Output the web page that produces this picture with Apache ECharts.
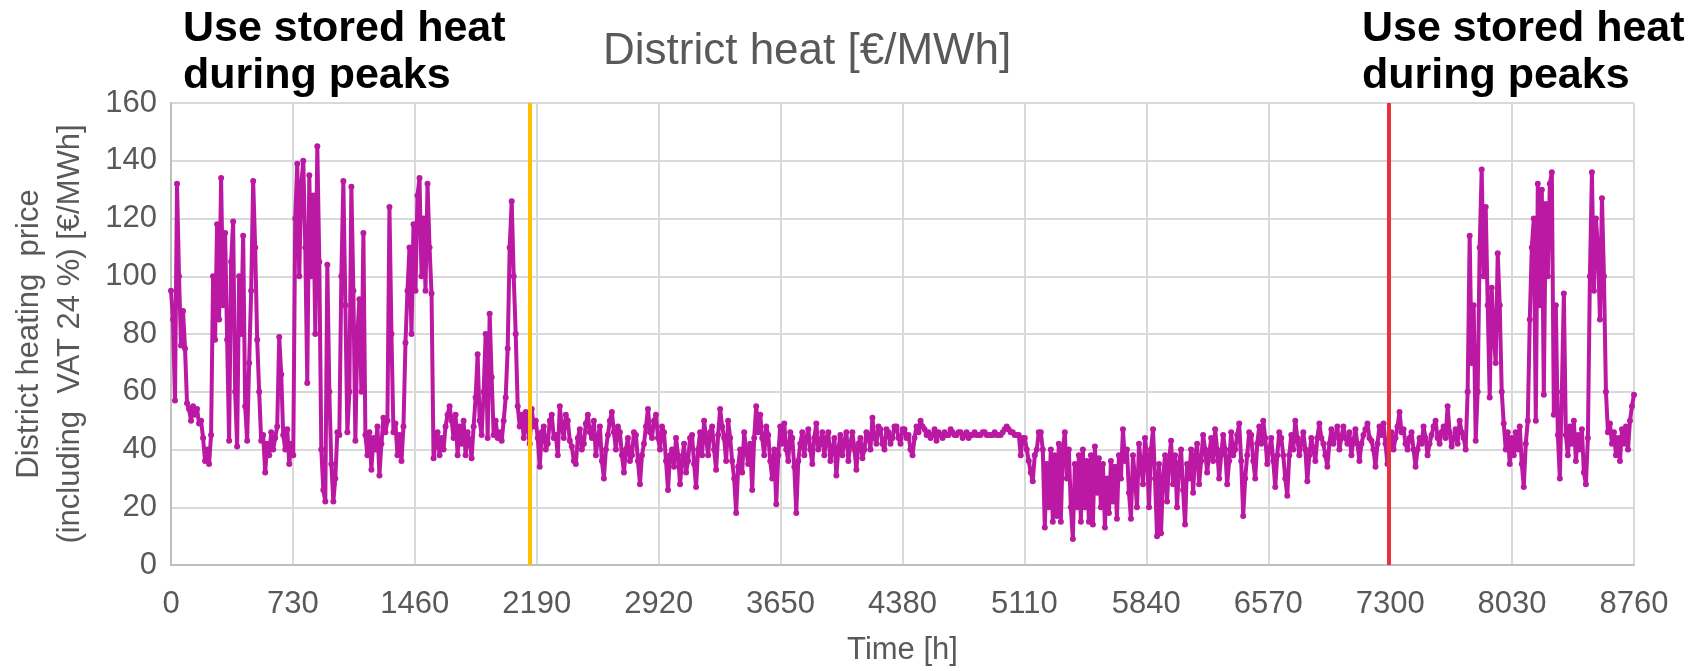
<!DOCTYPE html>
<html>
<head>
<meta charset="utf-8">
<script src="https://cdn.jsdelivr.net/npm/echarts@6/dist/echarts.min.js"></script>
<style>
  html, body { margin: 0; padding: 0; background: #fff; }
  #chart { width: 1700px; height: 671px; }
</style>
</head>
<body>
<div id="chart"></div>
<script>
// hourly district heat price [hour, €/MWh]
var winterStart = [
  [0,95],[12,85],[24,57],[36,132],[48,100],[60,76],[72,88],[84,75],[96,56],
  [108,54],[120,50],[132,55],[144,52],[156,54],[168,49],[180,50],[192,44],[204,36],[216,40],[228,35],[240,45],
  [252,100],[264,78],[276,118],[288,85],[300,134],[312,90],[324,115],[336,78],
  [348,43],[360,105],[372,119],[384,60],[396,41],[408,100],[420,80],[432,114],[444,55],[456,43],
  [468,70],[480,95],[492,133],[504,110],[516,78],[528,60],[540,43],
  [552,45],[564,32],[576,42],[588,38],[600,46],[612,40],[624,44],[636,48],
  [648,79],[660,66],[672,45],[684,40],[696,47],[708,35],[720,42],[732,38],
  [744,120],[756,139],[768,100],[780,132],[792,140],[804,110],[816,63],[828,135],[840,100],[852,128],[864,80],[876,145],[888,105],[900,40],[912,26],
  [924,22],[936,104],[948,60],[960,35],[972,22],[984,30],[996,46],[1008,45],[1020,100],[1032,133],
  [1044,90],[1056,46],[1068,60],[1080,131],[1092,95],[1104,43],[1116,80],[1128,92],[1140,60],[1152,115],
  [1164,45],[1176,38],[1188,46],[1200,33],[1212,44],[1224,40],[1236,48],[1248,31],[1260,42],
  [1272,51],[1284,46],[1296,50],[1308,124],[1320,80],[1332,46],[1344,49],[1356,38],[1368,45],[1380,36],[1392,48],
  [1404,77],[1416,95],[1428,110],[1440,80],[1452,118],[1464,95],[1476,128],[1488,134],[1500,100],[1512,120],[1524,95],[1536,132],[1548,110],[1560,94],[1572,37],
  [1584,42],[1596,46],[1608,38],[1620,44],[1632,40],[1644,48],[1656,52],[1668,55],[1680,50],[1692,44],[1704,52],[1716,38],[1728,48],[1740,42],[1752,50],[1764,38],[1776,46],[1788,43],[1800,37],[1812,48],
  [1824,58],[1836,73],[1848,50],[1860,45],[1872,60],[1884,80],[1896,44],[1908,87],[1920,65],[1932,45],
  [1944,50],[1956,44],[1968,46],[1980,43],[1992,50],[2004,58],[2016,75],[2028,110],[2040,126],
  [2052,100],[2064,80],[2076,55],[2088,48],[2100,52],[2112,44],[2124,53],[2136,47],[2148,42],[2160,54],[2172,48],[2184,50],[2196,44]
];

var springSummer = [
  [2208,34],[2220,46],[2232,48],[2244,40],[2256,42],[2268,50],[2280,52],[2292,44],[2304,45],[2316,38],[2328,55],[2340,48],[2352,44],[2364,52],[2376,50],[2388,43],[2400,41],[2412,36],[2424,35],[2436,44],[2448,47],[2460,40],[2472,42],[2484,49],[2496,52],[2508,46],[2520,44],[2532,50],[2544,38],[2556,44],[2568,48],[2580,36],[2592,30],[2604,40],[2616,45],[2628,50],[2640,53],[2652,46],[2664,40],[2676,48],[2688,46],[2700,38],[2712,32],[2724,40],[2736,44],[2748,36],[2760,38],[2772,46],[2784,45],[2796,36],[2808,28],[2820,38],[2832,42],[2844,48],[2856,54],[2868,46],[2880,44],[2892,50],[2904,52],[2916,44],[2928,40],[2940,48],[2952,46],[2964,36],[2976,26],
  [2988,38],[3000,40],[3012,34],[3024,44],[3036,38],[3048,28],[3060,36],[3072,42],[3084,32],[3096,36],[3108,44],[3120,45],[3132,35],[3144,27],
  [3156,40],[3168,46],[3180,38],[3192,50],[3204,44],[3216,38],[3228,46],[3240,48],[3252,40],[3264,33],[3276,45],[3288,54],[3300,48],[3312,44],[3324,36],[3336,50],[3348,44],[3360,36],[3372,30],[3384,18],
  [3396,34],[3408,40],[3420,32],[3432,46],[3444,40],[3456,35],[3468,42],[3480,26],[3492,44],[3504,55],[3516,46],[3528,52],
  [3540,44],[3552,38],[3564,48],[3576,45],[3588,36],[3600,30],[3612,40],[3624,21],[3636,38],[3648,48],[3660,42],[3672,49],[3684,40],[3696,36],[3708,46],[3720,44],[3732,34],[3744,18],
  [3756,36],[3768,42],[3780,46],[3792,38],[3804,44],[3816,47],[3828,40],[3840,35],[3852,44],[3864,49],[3876,40],[3888,42],[3900,46],[3912,38],[3924,44],[3936,46],[3948,36],[3960,40],[3972,44],[3984,31],[3996,40],[4008,45],[4020,38],[4032,43],[4044,46],[4056,36],[4068,42],[4080,46],[4092,40],[4104,33],[4116,42],[4128,44],[4140,37],[4152,40],[4164,46],[4176,45],
  [4188,40],[4200,51],[4212,44],[4224,42],[4236,48],[4248,47],[4260,42],[4272,40],[4284,47],[4296,46],[4308,42],[4320,44],[4332,48],[4344,48],[4356,44],[4368,42],[4380,47],[4392,47],[4404,44],[4416,45],[4428,40],[4440,38],[4452,44],[4464,48],[4476,46],[4488,50],
  [4500,48],[4512,47],[4524,45],[4536,46],[4548,44],[4560,45],[4572,47],[4584,43],[4596,46],[4608,45],[4620,44],[4632,46],[4644,45],[4656,45],[4668,47],[4680,46],[4692,45],[4704,45],[4716,46],[4728,46],[4740,44],[4752,45],[4764,46],[4776,44],[4788,45],[4800,45],[4812,46],[4824,45],[4836,45],[4848,45],[4860,46],[4872,46],[4884,45],[4896,45],[4908,45],[4920,45],[4932,46],[4944,45],[4956,45],[4968,45],[4980,46],[4992,47],[5004,48],[5016,47],[5028,46],[5040,46],[5052,45],[5064,45]
];

var autumn = [
  [5076,45],[5088,38],[5100,44],[5112,44],[5124,40],[5136,36],[5148,32],[5160,29],[5172,38],[5184,40],[5196,46],[5208,46],
  [5220,40],[5232,13],[5244,35],[5256,20],[5268,40],[5280,15],[5292,38],[5304,17],[5316,42],[5328,15],[5340,40],[5352,46],
  [5364,30],[5376,40],[5388,20],[5400,9],[5412,35],[5424,20],[5436,38],[5448,15],[5460,40],[5472,20],[5484,36],[5496,15],[5508,38],[5520,14],[5532,41],[5544,25],
  [5556,37],[5568,20],[5580,35],[5592,13],[5604,30],[5616,18],[5628,36],[5640,22],[5652,34],[5664,16],[5676,38],[5688,30],[5700,47],
  [5712,36],[5724,40],[5736,25],[5748,16],[5760,38],[5772,30],[5784,20],[5796,42],[5808,35],[5820,28],[5832,44],[5844,38],[5856,20],[5868,40],[5880,47],[5892,30],[5904,10],[5916,35],
  [5928,11],[5940,30],[5952,38],[5964,22],[5976,36],[5988,43],[6000,28],[6012,38],[6024,20],[6036,35],[6048,40],[6060,26],[6072,14],[6084,35],[6096,30],[6108,40],[6120,25],[6132,38],[6144,42],[6156,28],[6168,36],[6180,45],
  [6192,40],[6204,32],[6216,38],[6228,44],[6240,36],[6252,47],[6264,40],[6276,30],[6288,38],[6300,45],[6312,40],[6324,28],[6336,36],[6348,46],[6360,38],[6372,40],[6384,45],[6396,49],[6408,36],[6420,17],
  [6432,30],[6444,38],[6456,46],[6468,45],[6480,36],[6492,30],[6504,42],[6516,48],[6528,42],[6540,50],[6552,44],[6564,35],[6576,40],[6588,44],[6600,36],[6612,27],[6624,38],[6636,46],[6648,44],[6660,38],[6672,30],[6684,24],
  [6696,38],[6708,45],[6720,40],[6732,50],[6744,44],[6756,38],[6768,42],[6780,46],[6792,40],[6804,29],[6816,38],[6828,44],[6840,40],[6852,36],[6864,44],[6876,49],[6888,44],[6900,42],[6912,38],[6924,34],[6936,42],[6948,47],[6960,42],[6972,45],[6984,48],[6996,40],[7008,44],[7020,48],[7032,44],[7044,42],[7056,46],[7068,38],[7080,43],[7092,47],[7104,42],[7116,36],[7128,42],[7140,45],[7152,47],[7164,49],[7176,44],[7188,43],[7200,40],[7212,34],[7224,42],[7236,48],[7248,45],[7260,49],[7272,42],[7284,35],
  [7296,42],[7308,46],[7320,40],[7332,44],[7344,48],[7356,53],[7368,46],[7380,47],[7392,42],[7404,40],[7416,44],[7428,46],[7440,40],[7452,34],[7464,40],[7476,44],[7488,42],[7500,48],[7512,44],[7524,38],[7536,42],[7548,45],[7560,48],[7572,50],[7584,44],[7596,42],[7608,46],[7620,48],[7632,44],[7644,55],[7656,46],[7668,41],[7680,44],[7692,47],[7704,42],[7716,50],[7728,46],[7740,44],[7752,40]
];

var winterEnd = [
  [7764,60],[7776,114],[7788,70],[7800,90],[7812,43],[7824,60],[7836,110],[7848,137],[7860,100],[7872,124],[7884,90],[7896,58],[7908,96],[7920,80],[7932,70],[7944,108],[7956,90],[7968,60],
  [7980,49],[7992,40],[8004,46],[8016,35],[8028,44],[8040,38],[8052,46],[8064,40],[8076,48],[8088,35],[8100,27],[8112,42],
  [8124,50],[8136,85],[8148,110],[8160,120],[8172,50],[8184,132],[8196,90],[8208,130],[8220,59],[8232,125],[8244,100],[8256,132],[8268,136],[8280,52],[8292,90],[8304,45],[8316,30],[8328,60],[8340,94],
  [8352,45],[8364,38],[8376,48],[8388,42],[8400,50],[8412,36],[8424,45],[8436,40],[8448,47],[8460,32],[8472,28],[8484,44],
  [8496,100],[8508,136],[8520,95],[8532,120],[8544,110],[8556,85],[8568,127],[8580,100],[8592,60],
  [8604,46],[8616,49],[8628,42],[8640,46],[8652,38],[8664,44],[8676,36],[8688,47],[8700,42],[8712,48],[8724,40],[8736,50],[8748,55],[8760,59]
];

// hours where the storage periods switch
var storageLines = [2150, 7290];
var storageColors = ['#FFC000', '#E8333C'];

var annotationText = 'Use stored heat\nduring peaks';

var chart = echarts.init(document.getElementById('chart'), null, { renderer: 'canvas' });

var priceData = [].concat(winterStart, springSummer, autumn, winterEnd);

var gray = '#595959';
var font = 'Liberation Sans, Arial, sans-serif';

chart.setOption({
  animation: false,
  backgroundColor: '#fff',
  textStyle: { fontFamily: font },
  title: {
    text: 'District heat [€/MWh]',
    left: 598,
    top: 25,
    textStyle: { color: gray, fontSize: 44, fontWeight: 'normal', fontFamily: font }
  },
  grid: { left: 171, right: 66, top: 103, bottom: 100, containLabel: false },
  xAxis: {
    type: 'value',
    min: 0,
    max: 8760,
    interval: 730,
    name: 'Time [h]',
    nameLocation: 'middle',
    nameGap: 70,
    nameTextStyle: { color: gray, fontSize: 31, fontFamily: font },
    axisLine: { lineStyle: { color: '#BFBFBF', width: 2 } },
    axisTick: { show: false },
    axisLabel: {
      color: gray, fontSize: 31, margin: 24, fontFamily: font,
      formatter: function (v) { return String(v); }
    },
    splitLine: { show: true, lineStyle: { color: '#D9D9D9', width: 2 } }
  },
  yAxis: {
    type: 'value',
    min: 0,
    max: 160,
    interval: 20,
    name: 'District heating  price\n(including  VAT 24 %) [€/MWh]',
    nameLocation: 'middle',
    nameGap: 80,
    nameRotate: 90,
    nameTextStyle: { color: gray, fontSize: 31, lineHeight: 41, fontFamily: font },
    axisLine: { show: true, lineStyle: { color: '#BFBFBF', width: 2 } },
    axisTick: { show: false },
    axisLabel: { color: gray, fontSize: 31, margin: 14, fontFamily: font },
    splitLine: { show: true, lineStyle: { color: '#D9D9D9', width: 2 } }
  },
  graphic: [
    {
      type: 'text',
      left: 183,
      top: 6,
      style: { text: annotationText, fill: '#000', font: 'bold 43px ' + font, lineHeight: 47 }
    },
    {
      type: 'text',
      left: 1362,
      top: 6,
      style: { text: annotationText, fill: '#000', font: 'bold 43px ' + font, lineHeight: 47 }
    }
  ],
  series: [
    {
      type: 'line',
      data: priceData,
      showSymbol: true,
      showAllSymbol: true,
      symbol: 'circle',
      symbolSize: 6,
      itemStyle: { color: '#BB18A3' },
      lineStyle: { color: '#BB18A3', width: 4 },
      markLine: {
        silent: true,
        symbol: ['none', 'none'],
        label: { show: false },
        data: storageLines.map(function (h, i) {
          return { xAxis: h, lineStyle: { color: storageColors[i], width: 4, type: 'solid' } };
        })
      }
    }
  ]
});
</script>
</body>
</html>
